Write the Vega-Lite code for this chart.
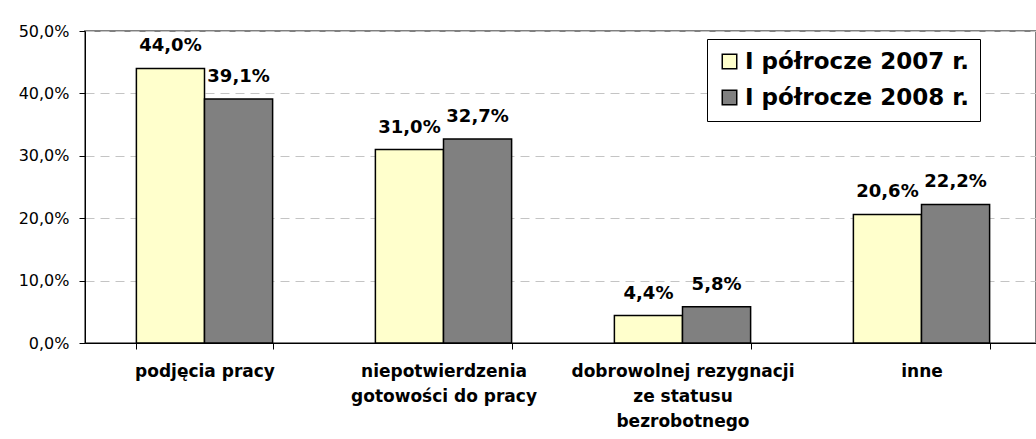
{
  "$schema": "https://vega.github.io/schema/vega-lite/v6.json",
  "width": 951,
  "height": 312,
  "autosize": {"type": "none"},
  "padding": {"left": 85, "top": 31, "right": 0, "bottom": 96},
  "background": "white",
  "config": {
    "locale": {"number": {"decimal": ",", "thousands": " ", "grouping": [3], "currency": ["", " zł"]}},
    "view": {"stroke": "#808080", "strokeWidth": 2},
    "font": "DejaVu Sans"
  },
  "data": {
    "values": [
      {"kategoria": "podjęcia pracy", "okres": "I półrocze 2007 r.", "wartosc": 0.440},
      {"kategoria": "podjęcia pracy", "okres": "I półrocze 2008 r.", "wartosc": 0.391},
      {"kategoria": "niepotwierdzenia|gotowości do pracy", "okres": "I półrocze 2007 r.", "wartosc": 0.310},
      {"kategoria": "niepotwierdzenia|gotowości do pracy", "okres": "I półrocze 2008 r.", "wartosc": 0.327},
      {"kategoria": "dobrowolnej rezygnacji|ze statusu|bezrobotnego", "okres": "I półrocze 2007 r.", "wartosc": 0.044},
      {"kategoria": "dobrowolnej rezygnacji|ze statusu|bezrobotnego", "okres": "I półrocze 2008 r.", "wartosc": 0.058},
      {"kategoria": "inne", "okres": "I półrocze 2007 r.", "wartosc": 0.206},
      {"kategoria": "inne", "okres": "I półrocze 2008 r.", "wartosc": 0.222}
    ]
  },
  "encoding": {
    "x": {
      "field": "kategoria",
      "type": "nominal",
      "sort": null,
      "scale": {"range": [0, 956], "paddingInner": 0.43, "paddingOuter": 0.215},
      "axis": {
        "title": null,
        "tickBand": "extent",
        "domainColor": "black",
        "domainWidth": 1,
        "tickColor": "black",
        "tickSize": 6,
        "labelFontSize": 17,
        "labelFontWeight": "bold",
        "labelColor": "black",
        "labelPadding": 14,
        "labelLineHeight": 25,
        "labelAngle": 0,
        "labelLimit": 400,
        "labelExpr": "split(datum.label, '|')",
        "grid": false
      }
    },
    "xOffset": {"field": "okres", "type": "nominal", "sort": null, "scale": {"paddingInner": 0, "paddingOuter": 0}},
    "y": {
      "field": "wartosc",
      "type": "quantitative",
      "scale": {"domain": [0, 0.5], "nice": false},
      "axis": {
        "title": null,
        "values": [0, 0.1, 0.2, 0.3, 0.4, 0.5],
        "format": ".1%",
        "grid": true,
        "gridDash": [9, 6],
        "gridColor": "#c4c4c4",
        "domainColor": "black",
        "tickColor": "black",
        "tickSize": 6,
        "labelPadding": 10,
        "labelFontSize": 16,
        "labelColor": "black"
      }
    }
  },
  "layer": [
    {
      "mark": {"type": "bar", "stroke": "black", "strokeWidth": 1.5},
      "encoding": {
        "color": {
          "field": "okres",
          "type": "nominal",
          "scale": {"domain": ["I półrocze 2007 r.", "I półrocze 2008 r."], "range": ["#FFFFCC", "#808080"]},
          "legend": {
            "orient": "none",
            "legendX": 622,
            "legendY": 8,
            "title": null,
            "strokeColor": "black",
            "fillColor": "white",
            "padding": 11,
            "labelFontSize": 23,
            "labelFontWeight": "bold",
            "labelColor": "black",
            "labelOffset": 4,
            "labelLimit": 400,
            "symbolType": "square",
            "symbolSize": 210,
            "symbolStrokeColor": "black",
            "symbolStrokeWidth": 1.5,
            "rowPadding": 12
          }
        }
      }
    },
    {
      "mark": {"type": "text", "baseline": "alphabetic", "dy": -17, "fontSize": 18, "fontWeight": "bold", "color": "black"},
      "encoding": {
        "text": {"field": "wartosc", "type": "quantitative", "format": ".1%"}
      }
    }
  ]
}
